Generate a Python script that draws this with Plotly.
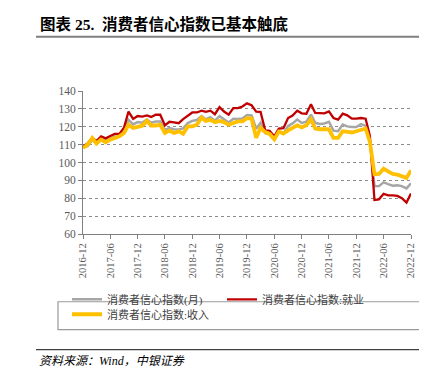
import plotly.graph_objects as go
import pandas as pd

months = pd.date_range("2016-12-01", "2022-12-01", freq="MS")

name_total = "消费者信心指数(月)"
name_job = "消费者信心指数:就业"
name_income = "消费者信心指数:收入"

total = [108.6,
         109.2, 112.6, 111.0, 113.4, 112.0, 113.3, 114.6, 114.7, 118.6, 123.9, 121.3, 122.6,
         122.3, 124.0, 122.3, 122.9, 122.9, 118.2, 119.2, 118.6, 118.5, 119.1, 122.1, 123.3,
         123.8, 126.0, 124.1, 125.3, 123.4, 125.9, 124.4, 122.4, 124.5, 124.3, 124.6, 126.6,
         126.4, 118.9, 122.2, 116.4, 115.8, 112.6, 117.2, 116.1, 120.5, 121.9, 124.0, 122.1,
         122.8, 126.8, 122.2, 121.5, 121.8, 122.8, 117.8, 117.5, 121.2, 120.2, 119.8, 119.8,
         121.5, 120.5, 113.2, 86.7, 86.8, 88.9, 87.9, 87.0, 87.2, 86.8, 85.5, 88.3]

job = [109.0,
       110.7, 113.7, 112.0, 114.6, 113.5, 114.8, 116.0, 116.0, 119.5, 128.5, 124.4, 126.0,
       125.7, 126.3, 125.5, 126.7, 126.7, 120.7, 122.8, 122.4, 122.0, 124.3, 126.0, 128.0,
       128.0, 129.0, 128.3, 129.0, 127.0, 131.0, 128.5, 126.7, 130.4, 130.4, 131.3, 133.1,
       132.0, 128.5, 128.3, 118.0, 117.7, 114.6, 119.0, 119.2, 124.9, 126.3, 129.0, 127.5,
       127.3, 132.6, 127.7, 127.5, 127.5, 128.6, 124.9, 124.0, 127.3, 126.4, 124.5, 124.5,
       124.9, 124.5, 115.0, 79.0, 79.4, 82.5, 81.6, 81.6, 81.3, 80.0, 77.6, 82.7]

income = [108.1,
          110.0, 113.7, 110.6, 112.8, 111.3, 112.8, 113.7, 114.6, 116.5, 121.1, 119.3, 120.0,
          120.6, 123.3, 120.7, 120.7, 121.1, 116.5, 117.8, 116.5, 117.4, 116.1, 120.2, 120.2,
          121.1, 125.2, 123.3, 123.9, 122.6, 123.3, 122.6, 121.1, 122.0, 123.0, 123.0, 124.8,
          124.6, 113.8, 119.4, 117.0, 116.0, 113.0, 117.3, 116.2, 118.0, 119.2, 120.8, 119.6,
          120.8, 124.2, 119.0, 118.6, 118.6, 118.6, 113.8, 113.8, 117.5, 117.2, 116.8, 117.5,
          118.2, 119.0, 111.7, 93.4, 93.6, 96.5, 95.0, 93.6, 93.2, 92.3, 91.4, 95.6]

y_ticks = [60, 70, 80, 90, 100, 110, 120, 130, 140]

title_text = "<b>图表 25.  消费者信心指数已基本触底</b>"
source_text = "<i>资料来源：Wind，中银证券</i>"

W, H = 427, 374
L, R, T, B = 75, 403, 82.5, 226
pw, ph = R - L, B - T


def px(x):
    return (x - L) / pw


def py(y):
    return (B - y) / ph


fig = go.Figure()
fig.add_trace(go.Scatter(x=months, y=total, name=name_total, mode="lines",
                         line=dict(color="#A6A6A6", width=2.5), legend="legend"))
fig.add_trace(go.Scatter(x=months, y=job, name=name_job, mode="lines",
                         line=dict(color="#C00000", width=2.3), legend="legend"))
fig.add_trace(go.Scatter(x=months, y=income, name=name_income, mode="lines",
                         line=dict(color="#FFC000", width=3.8), legend="legend2"))

serif = "Liberation Serif, Noto Sans CJK SC"
legend_font = dict(family="Liberation Serif, Noto Sans CJK SC", size=11, color="#404040")

fig.update_layout(
    width=W, height=H,
    margin=dict(l=L, r=W - R, t=T, b=H - B, pad=0),
    paper_bgcolor="white", plot_bgcolor="white",
    showlegend=True,
    legend=dict(orientation="h", x=px(59), xanchor="left", y=py(277), yanchor="top",
                entrywidth=110, font=legend_font, bgcolor="rgba(0,0,0,0)",
                borderwidth=0, tracegroupgap=0, itemwidth=30),
    legend2=dict(orientation="h", x=px(59), xanchor="left", y=py(292), yanchor="top",
                 font=legend_font, bgcolor="rgba(0,0,0,0)", borderwidth=0, itemwidth=30),
    xaxis=dict(
        type="date",
        range=[months[0], months[-1]],
        tick0="2016-12-01", dtick="M6", tickformat="%Y-%m",
        tickangle=-90,
        tickfont=dict(family=serif, size=10.5, color="#595959"),
        showgrid=False, zeroline=False,
        showline=True, linecolor="#808080", linewidth=1,
        ticks="outside", ticklen=4, tickcolor="#808080",
    ),
    yaxis=dict(
        range=[60, 140], tickvals=y_ticks,
        tickfont=dict(family=serif, size=11.5, color="#595959"),
        showgrid=True, gridcolor="#8c8c8c", griddash="dot", gridwidth=1,
        zeroline=False,
        showline=True, linecolor="#808080", linewidth=1,
        ticks="outside", ticklen=4, tickcolor="#808080",
    ),
    shapes=[
        dict(type="line", xref="paper", yref="paper", x0=px(28), x1=px(427),
             y0=py(28), y1=py(28), line=dict(color="#7f7f7f", width=2)),
        dict(type="line", xref="paper", yref="paper", x0=px(28), x1=px(427),
             y0=py(342), y1=py(342), line=dict(color="#404040", width=1.2)),
        dict(type="rect", xref="paper", yref="paper", x0=px(50), x1=px(416),
             y0=py(294), y1=py(322), line=dict(color="#9a9a9a", width=1.2)),
    ],
    annotations=[
        dict(text=title_text, xref="paper", yref="paper", x=px(30), y=py(15),
             xanchor="left", yanchor="middle", showarrow=False,
             font=dict(family="Liberation Serif, Noto Sans CJK SC", size=15.5, color="#000000")),
        dict(text=source_text, xref="paper", yref="paper", x=px(29), y=py(353),
             xanchor="left", yanchor="middle", showarrow=False,
             font=dict(family="Liberation Serif, Noto Sans CJK SC", size=12, color="#000000")),
    ],
)

fig.write_html("out.html")
